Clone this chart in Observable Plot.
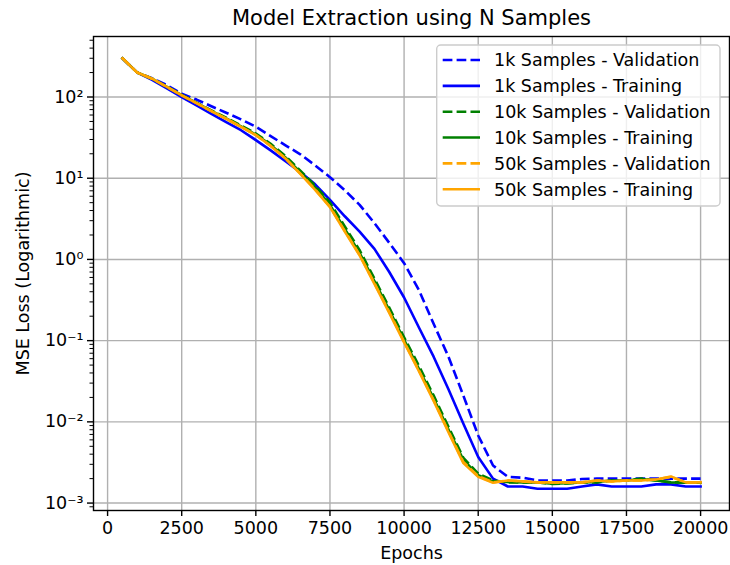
<!DOCTYPE html>
<html>
<head>
<meta charset="utf-8">
<script src="https://cdn.jsdelivr.net/npm/d3@7"></script>
<script src="https://cdn.jsdelivr.net/npm/@observablehq/plot@0.6"></script>
<style>
  body { margin: 0; background: #ffffff; }
  #wrap { position: relative; width: 730px; height: 565px; font-family: "DejaVu Sans", sans-serif; }
</style>
</head>
<body>
<div id="wrap"></div>
<script>
// ---- data ----
const epochs = [500, 1000, 1500, 2000, 2500, 3000, 3500, 4000, 4500, 5000,
  5500, 6000, 6500, 7000, 7500, 8000, 8500, 9000, 9500, 10000,
  10500, 11000, 11500, 12000, 12500, 13000, 13500, 14000, 14500, 15000,
  15500, 16000, 16500, 17000, 17500, 18000, 18500, 19000, 19500, 20000];

const val1k = [300, 200, 170, 140, 110, 93, 77, 64, 53, 43,
  33, 25.4, 19.7, 14.4, 10.3, 7.1, 4.7, 2.8, 1.6, 0.9,
  0.42, 0.16, 0.063, 0.021, 0.0068, 0.0029, 0.0021, 0.00205, 0.0019, 0.0019,
  0.0019, 0.00198, 0.002, 0.002, 0.002, 0.002, 0.002, 0.002, 0.002, 0.002];

const train1k = [300, 200, 163, 128, 100, 79, 62, 49, 39, 29.5,
  22, 16.2, 11.9, 8.4, 5.4, 3.4, 2.2, 1.35, 0.7, 0.34,
  0.145, 0.063, 0.025, 0.0095, 0.0037, 0.002, 0.0016, 0.0016, 0.0015, 0.0015,
  0.0015, 0.0016, 0.0017, 0.0016, 0.0016, 0.0016, 0.0017, 0.0017, 0.0016, 0.0016];

const val10k = [300, 200, 168, 134, 106, 85, 68.5, 55.5, 44.5, 35.5,
  26.5, 18.8, 12.4, 8.1, 5.0, 2.55, 1.3, 0.58, 0.255, 0.11,
  0.049, 0.021, 0.0086, 0.0036, 0.0023, 0.0019, 0.0018, 0.0018, 0.0018, 0.00172,
  0.00175, 0.0018, 0.0018, 0.0019, 0.0019, 0.002, 0.0019, 0.0018, 0.0018, 0.0018];

const train10k = [300, 200, 168, 133.5, 105.5, 84.5, 67.5, 54.5, 43.5, 34.5,
  25.7, 18, 11.9, 7.7, 4.7, 2.38, 1.2, 0.54, 0.237, 0.102,
  0.045, 0.0193, 0.008, 0.0034, 0.0022, 0.00185, 0.00182, 0.0018, 0.0018, 0.00173,
  0.00176, 0.0018, 0.00182, 0.0019, 0.0019, 0.00198, 0.0019, 0.0018, 0.00178, 0.00178];

const val50k = [300, 200, 168, 133, 105, 84, 67, 54, 43, 34,
  25, 17.6, 11.4, 7.3, 4.45, 2.25, 1.14, 0.51, 0.225, 0.097,
  0.043, 0.0184, 0.0076, 0.0032, 0.00215, 0.0018, 0.0019, 0.00185, 0.0018, 0.0018,
  0.0018, 0.0018, 0.0019, 0.00185, 0.0019, 0.0019, 0.00195, 0.0021, 0.0018, 0.0018];

const train50k = [300, 200, 168, 133, 105, 84, 67, 54, 43, 34,
  25, 17.5, 11.3, 7.2, 4.4, 2.2, 1.12, 0.5, 0.22, 0.095,
  0.042, 0.018, 0.0074, 0.0031, 0.0021, 0.00178, 0.0019, 0.00185, 0.0018, 0.0018,
  0.0018, 0.0018, 0.0019, 0.00185, 0.0019, 0.0019, 0.00195, 0.00213, 0.0018, 0.0018];

const seriesNames = ["1k Samples - Validation", "1k Samples - Training",
  "10k Samples - Validation", "10k Samples - Training",
  "50k Samples - Validation", "50k Samples - Training"];
const seriesValues = [val1k, train1k, val10k, train10k, val50k, train50k];
const seriesColors = ["blue", "blue", "green", "green", "orange", "orange"];
const seriesDashed = [true, false, true, false, true, false];

const xTicks = [0, 2500, 5000, 7500, 10000, 12500, 15000, 17500, 20000];
const xTickLabels = ["0", "2500", "5000", "7500", "10000", "12500", "15000", "17500", "20000"];
const yTicks = [1e-3, 1e-2, 1e-1, 1, 10, 100];
const yTickLabels = ["10\u207B\u00B3", "10\u207B\u00B2", "10\u207B\u00B9", "10\u2070", "10\u00B9", "10\u00B2"];

const titleText = "Model Extraction using N Samples";
const xLabel = "Epochs";
const yLabel = "MSE Loss (Logarithmic)";

// ---- scales setup ----
const yDomain = [8.1e-4, 556];
const minorTicks = [];
for (let k = -4; k <= 2; k++) {
  for (let m = 2; m <= 9; m++) {
    const v = +(m * Math.pow(10, k)).toPrecision(6);
    if (v >= yDomain[0] && v <= yDomain[1]) minorTicks.push(v);
  }
}

const DASH = "9.7,4.2";
const LW = 2.6;

const lineMarks = seriesNames.map((name, si) =>
  Plot.line(epochs.map((e, i) => ({epoch: e, loss: seriesValues[si][i]})), {
    x: "epoch", y: "loss",
    stroke: seriesColors[si],
    strokeWidth: LW,
    strokeDasharray: seriesDashed[si] ? DASH : null,
    strokeLinecap: seriesDashed[si] ? "butt" : "square",
    strokeLinejoin: "round"
  })
);

const chart = Plot.plot({
  width: 730,
  height: 565,
  marginLeft: 93,
  marginRight: 1,
  marginTop: 36,
  marginBottom: 55,
  style: {fontFamily: "DejaVu Sans, sans-serif", fontSize: "17.5px", background: "#ffffff", color: "black", overflow: "visible"},
  x: {domain: [-475, 20975]},
  y: {type: "log", domain: yDomain},
  marks: [
    Plot.gridX(xTicks, {stroke: "#b0b0b0", strokeOpacity: 1, strokeWidth: 1.4}),
    Plot.gridY(yTicks, {stroke: "#b0b0b0", strokeOpacity: 1, strokeWidth: 1.4}),
    ...lineMarks,
    Plot.frame({stroke: "black", strokeWidth: 1.4}),
    Plot.axisX(xTicks, {tickSize: 6, tickPadding: 5, strokeWidth: 1.4, label: null,
      tickFormat: (d) => xTickLabels[xTicks.indexOf(d)]}),
    Plot.axisY(yTicks, {tickSize: 6, tickPadding: 4, strokeWidth: 1.4, label: null,
      tickFormat: (d) => yTickLabels[yTicks.indexOf(d)]}),
    Plot.axisY(minorTicks, {tickSize: 3.5, tickPadding: 0, strokeWidth: 1, label: null,
      tickFormat: () => ""}),
    Plot.text([titleText], {frameAnchor: "top", lineAnchor: "middle", textAnchor: "middle",
      dy: -18, fontSize: 21, text: (d) => d, fill: "black"}),
    Plot.text([xLabel], {frameAnchor: "bottom", lineAnchor: "middle", textAnchor: "middle",
      dy: 43, text: (d) => d, fill: "black"}),
    Plot.text([yLabel], {frameAnchor: "left", lineAnchor: "middle", textAnchor: "middle",
      dx: -70, rotate: -90, text: (d) => d, fill: "black"})
  ]
});

const wrap = document.getElementById("wrap");
wrap.appendChild(chart);

// ---- legend (overlay, matplotlib-style box) ----
const lg = d3.select(wrap).append("svg")
  .attr("width", 290).attr("height", 168)
  .style("position", "absolute").style("left", "435px").style("top", "43px")
  .style("font-family", "DejaVu Sans, sans-serif").style("font-size", "17.5px");

lg.append("rect")
  .attr("x", 1.7).attr("y", 2).attr("width", 283.3).attr("height", 161)
  .attr("rx", 4).attr("ry", 4)
  .attr("fill", "rgba(255,255,255,0.8)")
  .attr("stroke", "#cccccc").attr("stroke-width", 1.4);

seriesNames.forEach((name, i) => {
  const cy = 17 + i * 25.85;
  lg.append("line")
    .attr("x1", 7.7).attr("x2", 45).attr("y1", cy).attr("y2", cy)
    .attr("stroke", seriesColors[i]).attr("stroke-width", LW)
    .attr("stroke-dasharray", seriesDashed[i] ? DASH : null)
    .attr("stroke-linecap", "butt");
  lg.append("text")
    .attr("x", 59).attr("y", cy + 6.3)
    .attr("fill", "black")
    .text(name);
});
</script>
</body>
</html>
